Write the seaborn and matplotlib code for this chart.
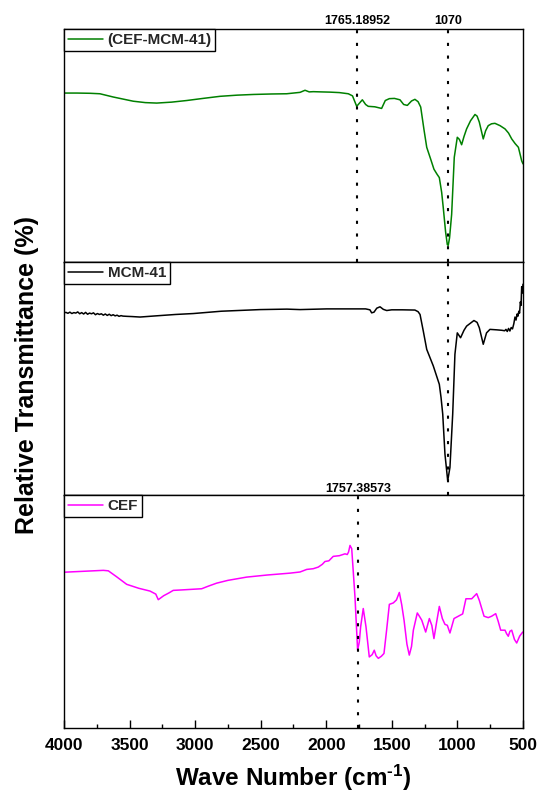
import matplotlib
matplotlib.use("Agg")
import matplotlib.pyplot as plt
import seaborn as sns
import pandas as pd
from matplotlib.ticker import MultipleLocator

# ---- FTIR spectra (wavenumber in cm^-1, relative transmittance in %) ----
wn_composite = [4000, 3900, 3800, 3726, 3624, 3472, 3380, 3293, 3180, 3064, 2940, 2810,
                2680, 2556, 2420, 2302, 2200, 2162, 2130, 2099, 2040, 1972, 1900, 1832,
                1800, 1768, 1745, 1725, 1700, 1680, 1630, 1578, 1550, 1519, 1480, 1438,
                1410, 1382, 1350, 1324, 1300, 1280, 1255, 1234, 1205, 1179, 1155, 1138,
                1120, 1108, 1090, 1077, 1070, 1060, 1044, 1024, 1001, 985, 968, 950, 930,
                900, 866, 850, 833, 803, 785, 765, 740, 714, 675, 637, 610, 586, 560,
                535, 510, 500]
t_composite = [72.7, 72.7, 72.6, 72.4, 71.0, 69.2, 68.6, 68.4, 68.8, 69.5, 70.4, 71.3,
               71.8, 72.1, 72.3, 72.4, 73.0, 73.9, 73.2, 73.3, 73.2, 73.1, 72.9, 72.4,
               71.5, 67.0, 68.5, 69.8, 67.8, 67.0, 66.8, 66.1, 69.5, 70.3, 70.4, 69.8,
               67.8, 67.4, 69.3, 70.0, 69.0, 66.7, 57.0, 49.4, 44.5, 40.0, 37.8, 36.4,
               30.0, 23.5, 13.0, 7.6, 7.3, 10.5, 20.6, 45.1, 53.7, 52.8, 50.5, 54.0, 57.3,
               60.8, 63.5, 62.8, 60.2, 53.0, 56.5, 58.7, 59.5, 59.7, 58.7, 57.3, 55.5, 53.0,
               51.0, 49.4, 43.6, 42.3]

wn_mcm = [4000, 3985, 3970, 3955, 3940, 3925, 3910, 3895, 3880, 3865, 3850, 3835, 3820,
          3805, 3790, 3775, 3760, 3745, 3730, 3715, 3700, 3685, 3670, 3655, 3640, 3625,
          3610, 3595, 3580, 3565, 3550, 3520, 3480, 3420, 3300, 3150, 3014, 2800, 2505,
          2300, 2200, 1997, 1800, 1700, 1667, 1654, 1636, 1615, 1590, 1565, 1539, 1501,
          1420, 1324, 1300, 1285, 1260, 1234, 1184, 1138, 1125, 1112, 1095, 1074, 1057,
          1036, 1019, 1001, 976, 950, 930, 874, 850, 833, 803, 778, 752, 700,
          660, 640, 630, 620, 610, 600, 590, 580, 570, 561,
          553, 545, 538, 532, 526, 520, 515, 510, 505, 500]
t_mcm = [78.3, 78.5, 78.1, 78.6, 78.0, 78.4, 78.2, 78.7, 77.9, 78.4, 77.8, 78.5, 77.7,
         78.2, 77.9, 78.3, 77.5, 78.0, 77.6, 77.9, 77.3, 77.8, 77.2, 77.7, 77.1, 77.5,
         77.0, 77.3, 76.8, 77.1, 76.9, 76.8, 76.7, 76.5, 77.0, 77.6, 78.0, 79.0, 79.7,
         79.9, 79.7, 80.0, 80.0, 80.0, 79.6, 78.3, 78.6, 80.3, 80.9, 79.8, 79.3, 79.6,
         79.6, 79.5, 78.8, 77.6, 70.4, 62.6, 55.5, 47.6, 42.0, 34.8, 17.6, 6.2, 11.9,
         34.8, 60.5, 69.7, 67.6, 70.8, 72.6, 75.0, 74.2, 71.9, 64.8, 69.7, 71.2, 71.0,
         70.8, 70.6, 71.2, 70.3, 71.6, 70.5, 72.0, 71.4, 73.6, 76.5,
         75.2, 77.8, 76.9, 79.0, 78.2, 83.0, 81.5, 89.5, 86.8, 90.6]

wn_cef = [4000, 3850, 3700, 3662, 3600, 3522, 3430, 3344, 3300, 3281, 3240, 3200, 3167,
          3100, 2950, 2900, 2836, 2750, 2607, 2450, 2277, 2200, 2149, 2100, 2061, 2030,
          2010, 1980, 1947, 1900, 1857, 1840, 1830, 1819, 1806, 1781, 1761, 1748, 1738,
          1718, 1697, 1672, 1650, 1634, 1620, 1603, 1580, 1560, 1540, 1519, 1489, 1465,
          1443, 1425, 1407, 1385, 1367, 1350, 1336, 1306, 1290, 1272, 1242, 1214, 1195,
          1179, 1160, 1138, 1115, 1095, 1077, 1057, 1026, 980, 960, 935, 891, 853, 833,
          797, 765, 739, 708, 690, 670, 637, 625, 612, 600, 586, 565, 548, 525, 502]
t_cef = [66.9, 67.3, 67.7, 67.5, 65.0, 61.7, 60.0, 58.8, 57.5, 55.1, 56.8, 58.0, 59.1,
         59.3, 59.8, 60.9, 62.2, 63.4, 64.8, 65.7, 66.5, 67.0, 68.1, 68.4, 69.1, 70.3,
         71.5, 71.8, 73.7, 74.0, 74.8, 74.5, 75.6, 78.4, 77.0, 56.2, 33.4, 37.0, 43.4,
         51.3, 43.4, 30.5, 31.5, 33.4, 31.0, 29.9, 30.8, 32.0, 42.0, 53.1, 53.7, 55.0,
         58.2, 53.0, 46.3, 36.0, 31.3, 35.0, 42.0, 49.4, 48.0, 46.3, 41.2, 47.0, 44.0,
         38.4, 45.0, 52.2, 47.0, 44.5, 44.1, 40.8, 47.0, 48.4, 49.0, 55.5, 55.5, 57.7,
         54.8, 48.0, 47.4, 48.0, 49.1, 46.0, 42.0, 42.0, 40.5, 39.4, 41.5, 42.0, 38.0,
         36.5, 39.5, 41.2]

sample_names = ["(CEF-MCM-41)", "MCM-41", "CEF"]
line_colors = ["#008000", "#000000", "#ff00ff"]
x_ticks = [4000, 3500, 3000, 2500, 2000, 1500, 1000, 500]

# marked band positions: (panel index, wavenumber, label or None, label placement)
markers = [
    (0, 1765.18952, "1765.18952", "above"),
    (0, 1070, "1070", "above"),
    (1, 1070, None, None),
    (2, 1757.38573, "1757.38573", "prev_bottom"),
]

sns.set_theme(style="white")
plt.rcParams["font.family"] = ["Liberation Sans", "DejaVu Sans"]
plt.rcParams["font.weight"] = "bold"
plt.rcParams["mathtext.fontset"] = "custom"
plt.rcParams["mathtext.rm"] = "Liberation Sans:bold"
plt.rcParams["mathtext.it"] = "Liberation Sans:bold"
plt.rcParams["mathtext.bf"] = "Liberation Sans:bold"

fig, axes = plt.subplots(3, 1, figsize=(5.39, 7.93), dpi=100, sharex=True)
fig.subplots_adjust(left=0.1187, right=0.9703, top=0.9628, bottom=0.082, hspace=0)

spectra = [(wn_composite, t_composite), (wn_mcm, t_mcm), (wn_cef, t_cef)]
for ax, (wn, t), name, color in zip(axes, spectra, sample_names, line_colors):
    df = pd.DataFrame({"wavenumber": wn, "transmittance": t})
    sns.lineplot(data=df, x="wavenumber", y="transmittance", ax=ax, color=color,
                 linewidth=1.1, sort=False, estimator=None, label=name)
    ax.set_ylim(0, 100)
    ax.set_yticks([])
    ax.set_ylabel("")
    ax.set_xlabel("")
    for sp in ax.spines.values():
        sp.set_color("black")
        sp.set_linewidth(1.0)
    leg = ax.legend(loc="upper left", borderaxespad=0, fancybox=False, framealpha=1,
                    edgecolor="black", handlelength=2.3, handletextpad=0.3,
                    borderpad=0.25, prop={"weight": "bold", "size": 11})
    leg.get_frame().set_linewidth(1.0)

axes[-1].set_xlim(4000, 500)
axes[-1].set_xticks(x_ticks)
axes[-1].xaxis.set_minor_locator(MultipleLocator(250))
for ax in axes[:-1]:
    ax.tick_params(axis="x", which="both", bottom=False, top=False, labelbottom=False)
axes[-1].tick_params(axis="x", which="major", direction="in", length=6, width=1.0,
                     bottom=True, top=False, labelsize=12.5, pad=7, colors="black")
axes[-1].tick_params(axis="x", which="minor", direction="in", length=3, width=1.0,
                     bottom=True, top=False, colors="black")
for lbl in axes[-1].get_xticklabels():
    lbl.set_fontweight("bold")

for idx, pos, text, where in markers:
    ax = axes[idx]
    ax.axvline(pos, color="black", linewidth=1.5, linestyle=(0, (1.5, 4.6)))
    if text is None:
        continue
    if where == "above":
        ax.text(pos, 1.025, text, transform=ax.get_xaxis_transform(), ha="center",
                va="baseline", fontsize=9, fontweight="bold", color="black")
    else:
        prev = axes[idx - 1]
        prev.text(pos, 0.014, text, transform=prev.get_xaxis_transform(), ha="center",
                  va="baseline", fontsize=9, fontweight="bold", color="black")

axes[-1].set_xlabel(r"Wave Number (cm$^{\text{-1}}$)", fontsize=17.5, fontweight="bold",
                    labelpad=7, color="black")
fig.text(0.05, 0.527, "Relative Transmittance (%)", rotation=90, ha="center",
         va="center", fontsize=18, fontweight="bold", color="black")

fig.savefig("out.png", dpi=100)
